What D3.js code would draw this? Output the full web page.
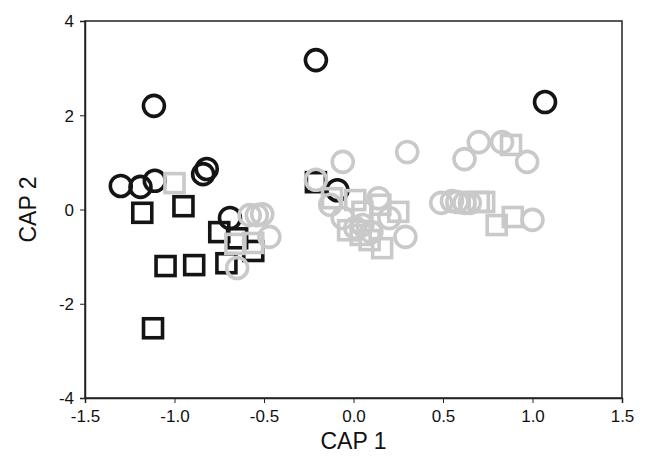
<!DOCTYPE html>
<html>
<head>
<meta charset="utf-8">
<script src="https://cdn.jsdelivr.net/npm/d3@7"></script>
<style>
  body { margin: 0; background: #fff; }
  svg { display: block; font-family: "Liberation Sans", Arial, sans-serif; }
</style>
</head>
<body>
<div id="chart"></div>
<script>
// CAP ordination scores
const blackCircles = [
  [-0.21, 3.17], [-1.115, 2.20], [1.07, 2.28], [-1.30, 0.50], [-1.19, 0.48],
  [-1.11, 0.61], [-0.82, 0.86], [-0.84, 0.75], [-0.69, -0.18], [-0.09, 0.41]
];
const blackSquares = [
  [-0.21, 0.58], [-1.18, -0.07], [-0.95, 0.07], [-1.05, -1.20], [-0.89, -1.18],
  [-1.12, -2.52], [-0.75, -0.48], [-0.71, -1.14], [-0.65, -0.61], [-0.56, -0.88]
];
const greyCircles = [
  [-0.06, 1.01], [0.30, 1.22], [-0.21, 0.63], [-0.13, 0.10], [-0.06, -0.18],
  [0.05, -0.33], [0.14, 0.24], [0.10, -0.48], [0.20, -0.18], [0.29, -0.58],
  [0.01, -0.39], [-0.58, -0.12], [-0.54, -0.12], [-0.51, -0.10], [-0.47, -0.58],
  [-0.65, -1.24], [0.62, 1.07], [0.70, 1.43], [0.83, 1.43], [0.97, 1.01],
  [0.49, 0.14], [0.55, 0.18], [0.58, 0.16], [0.62, 0.14], [0.65, 0.14], [1.00, -0.22]
];
const greySquares = [
  [-1.00, 0.56], [-0.66, -0.73], [-0.56, -0.71], [-0.12, 0.24], [0.01, 0.20],
  [0.05, -0.05], [-0.03, -0.44], [0.15, 0.10], [0.25, -0.05], [0.09, -0.65],
  [0.16, -0.82], [0.04, -0.54], [0.88, 1.37], [0.70, 0.16], [0.73, 0.16],
  [0.80, -0.33], [0.89, -0.16]
];
const xTicks = [-1.5, -1.0, -0.5, 0.0, 0.5, 1.0, 1.5];
const yTicks = [-4, -2, 0, 2, 4];

const width = 646, height = 461;
const margin = { top: 21, right: 24, bottom: 63, left: 85 };

const svg = d3.select("#chart").append("svg")
  .attr("width", width).attr("height", height);

const x = d3.scaleLinear().domain([-1.5, 1.5]).range([margin.left, width - margin.right]);
const y = d3.scaleLinear().domain([-4, 4]).range([height - margin.bottom, margin.top]);

// frame
svg.append("rect")
  .attr("x", x(-1.5)).attr("y", y(4))
  .attr("width", x(1.5) - x(-1.5)).attr("height", y(-4) - y(4))
  .attr("fill", "none").attr("stroke", "#222").attr("stroke-width", 1.5);

const fmtX = d => d.toFixed(1).replace("−", "-");
const xAxis = svg.append("g")
  .attr("transform", `translate(0,${y(-4)})`)
  .call(d3.axisBottom(x).tickValues(xTicks).tickFormat(fmtX).tickSize(5).tickPadding(7));
const yAxis = svg.append("g")
  .attr("transform", `translate(${x(-1.5)},0)`)
  .call(d3.axisLeft(y).tickValues(yTicks).tickFormat(d => String(d)).tickSize(5).tickPadding(6));

for (const ax of [xAxis, yAxis]) {
  ax.select(".domain").attr("stroke", "#222").attr("stroke-width", 1.5);
  ax.selectAll(".tick line").attr("stroke", "#222").attr("stroke-width", 1);
  ax.selectAll(".tick text")
    .attr("font-size", 17).attr("fill", "#111")
    .attr("font-family", "'Liberation Sans', Arial, sans-serif");
}
yAxis.selectAll(".tick text").attr("dy", "0.35em");

svg.append("text")
  .attr("x", x(0)).attr("y", 449)
  .attr("text-anchor", "middle").attr("font-size", 23).attr("fill", "#111")
  .text("CAP 1");
svg.append("text")
  .attr("transform", `translate(36,${y(0)}) rotate(-90)`)
  .attr("text-anchor", "middle").attr("font-size", 23).attr("fill", "#111")
  .text("CAP 2");

const r = 10.5, side = 19, sw = 3.6;
const black = "#141414", grey = "#c9c9c9";

function circles(data, color) {
  svg.append("g").selectAll("circle").data(data).join("circle")
    .attr("cx", d => x(d[0])).attr("cy", d => y(d[1])).attr("r", r)
    .attr("fill", "none").attr("stroke", color).attr("stroke-width", sw);
}
function squares(data, color) {
  svg.append("g").selectAll("rect").data(data).join("rect")
    .attr("x", d => x(d[0]) - side / 2).attr("y", d => y(d[1]) - side / 2)
    .attr("width", side).attr("height", side)
    .attr("fill", "none").attr("stroke", color).attr("stroke-width", sw);
}

squares(blackSquares, black);
circles(blackCircles, black);
squares(greySquares, grey);
circles(greyCircles, grey);
</script>
</body>
</html>
